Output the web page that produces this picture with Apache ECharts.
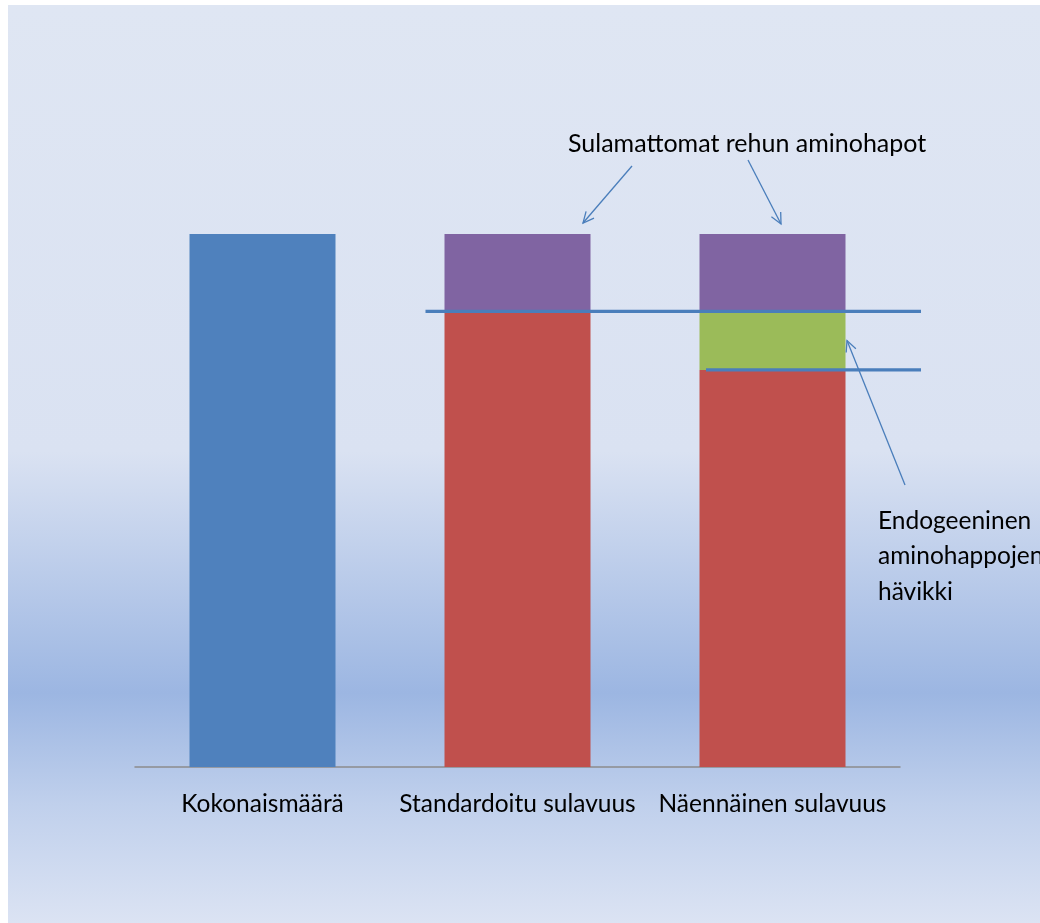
<!DOCTYPE html>
<html>
<head>
<meta charset="utf-8">
<title>Aminohappojen sulavuus</title>
<script src="https://cdn.jsdelivr.net/npm/echarts@6/dist/echarts.min.js"></script>
<style>
  html, body { margin: 0; padding: 0; background: #ffffff; }
  #chart { width: 1040px; height: 923px; }
</style>
</head>
<body>
<div id="chart"></div>
<script>
// Categories along the bottom axis
const categories = ['Kokonaismäärä', 'Standardoitu sulavuus', 'Näennäinen sulavuus'];

// Stacked segments (share of total amino acids, %)
const totalAmount    = [100, null, null];   // blue: total amount
const digestible     = [null, 85.5, 74.5];  // red: digestible part
const endogenousLoss = [null, null, 11];    // green: endogenous loss
const undigested     = [null, 14.5, 14.5];  // purple: undigested feed amino acids

// Callout texts
const calloutTop = 'Sulamattomat rehun aminohapot';
const calloutSide = ['Endogeeninen', 'aminohappojen', 'hävikki'];

const FONT = 'Lato, "Open Sans", sans-serif';
const LINE_BLUE = '#4a7ebb';

const chart = echarts.init(document.getElementById('chart'), null, { renderer: 'canvas' });

function barSeries(name, data, color) {
  return {
    name: name,
    type: 'bar',
    stack: 'total',
    data: data,
    barWidth: 146,
    itemStyle: { color: color },
    emphasis: { disabled: true },
    silent: true
  };
}

const option = {
  animation: false,
  backgroundColor: '#ffffff',
  grid: { left: 135, right: 140, top: 234, bottom: 156 },
  xAxis: {
    type: 'category',
    data: categories,
    axisTick: { show: false },
    axisLine: { show: true, lineStyle: { color: '#8c8c8c', width: 1.5 } },
    axisLabel: {
      color: '#000000',
      fontFamily: FONT,
      fontSize: 24.5,
      margin: 25,
      interval: 0
    },
    splitLine: { show: false }
  },
  yAxis: {
    type: 'value',
    min: 0,
    max: 100,
    show: false
  },
  series: [
    barSeries('Kokonaismäärä', totalAmount, '#4f81bd'),
    barSeries('Sulava osa', digestible, '#c0504d'),
    barSeries('Endogeeninen hävikki', endogenousLoss, '#9bbb59'),
    barSeries('Sulamattomat', undigested, '#8064a2')
  ]
};

chart.setOption(option);

// Pixel helpers from the chart's own scales
function px(cat, val) {
  return chart.convertToPixel({ gridIndex: 0 }, [cat, val]);
}

// Open V arrowhead at the tip of a line
function arrow(x0, y0, x1, y1) {
  const ang = Math.atan2(y1 - y0, x1 - x0);
  const len = 12, spread = 0.45;
  const a1 = [x1 - len * Math.cos(ang - spread), y1 - len * Math.sin(ang - spread)];
  const a2 = [x1 - len * Math.cos(ang + spread), y1 - len * Math.sin(ang + spread)];
  return [
    { type: 'line', z: 100, silent: true,
      shape: { x1: x0, y1: y0, x2: x1, y2: y1 },
      style: { stroke: LINE_BLUE, lineWidth: 1.3 } },
    { type: 'polyline', z: 100, silent: true,
      shape: { points: [a1, [x1, y1], a2] },
      style: { stroke: LINE_BLUE, lineWidth: 1.3, fill: null } }
  ];
}

const std = categories[1], app = categories[2];
const stdTop = px(std, digestible[1] + undigested[1]);
const appTop = px(app, digestible[2] + endogenousLoss[2] + undigested[2]);
const stdLevel = px(std, digestible[1]);
const appLevel = px(app, digestible[2]);
const greenMid = px(app, digestible[2] + endogenousLoss[2] / 2);
const halfBar = 73;

const elements = [
  // chart area background with a horizontal band of deeper blue
  {
    type: 'rect', z: -10, silent: true,
    shape: { x: 8, y: 5, width: 1040, height: 930 },
    style: {
      fill: new echarts.graphic.LinearGradient(0, 0, 0, 1, [
        { offset: 0, color: '#dfe6f3' },
        { offset: 0.48, color: '#dae2f2' },
        { offset: 0.74, color: '#9cb6e2' },
        { offset: 0.86, color: '#c0d0ec' },
        { offset: 1, color: '#dee5f4' }
      ])
    }
  },
  // level of standardised digestibility
  {
    type: 'line', z: 100, silent: true,
    shape: { x1: stdLevel[0] - 92, y1: stdLevel[1], x2: appLevel[0] + 148.5, y2: stdLevel[1] },
    style: { stroke: LINE_BLUE, lineWidth: 3.2 }
  },
  // level of apparent digestibility
  {
    type: 'line', z: 100, silent: true,
    shape: { x1: appLevel[0] - 66.5, y1: appLevel[1], x2: appLevel[0] + 148.5, y2: appLevel[1] },
    style: { stroke: LINE_BLUE, lineWidth: 3.2 }
  },
  {
    type: 'text', z: 100, silent: true,
    style: {
      x: 568, y: 144, text: calloutTop,
      font: '25px ' + FONT, fill: '#000000',
      textAlign: 'left', textVerticalAlign: 'middle'
    }
  },
  {
    type: 'text', z: 100, silent: true,
    style: {
      x: 878, y: 503, text: calloutSide.join('\n'),
      font: '24.5px ' + FONT, fill: '#000000', lineHeight: 35.5,
      textAlign: 'left', textVerticalAlign: 'top'
    }
  }
];

elements.push(...arrow(632, 166, stdTop[0] + 65.5, stdTop[1] - 11));
elements.push(...arrow(748, 160, appTop[0] + 8.5, appTop[1] - 10));
elements.push(...arrow(905, 485, greenMid[0] + halfBar + 1.5, greenMid[1]));

chart.setOption({ graphic: { elements: elements } });
</script>
</body>
</html>
